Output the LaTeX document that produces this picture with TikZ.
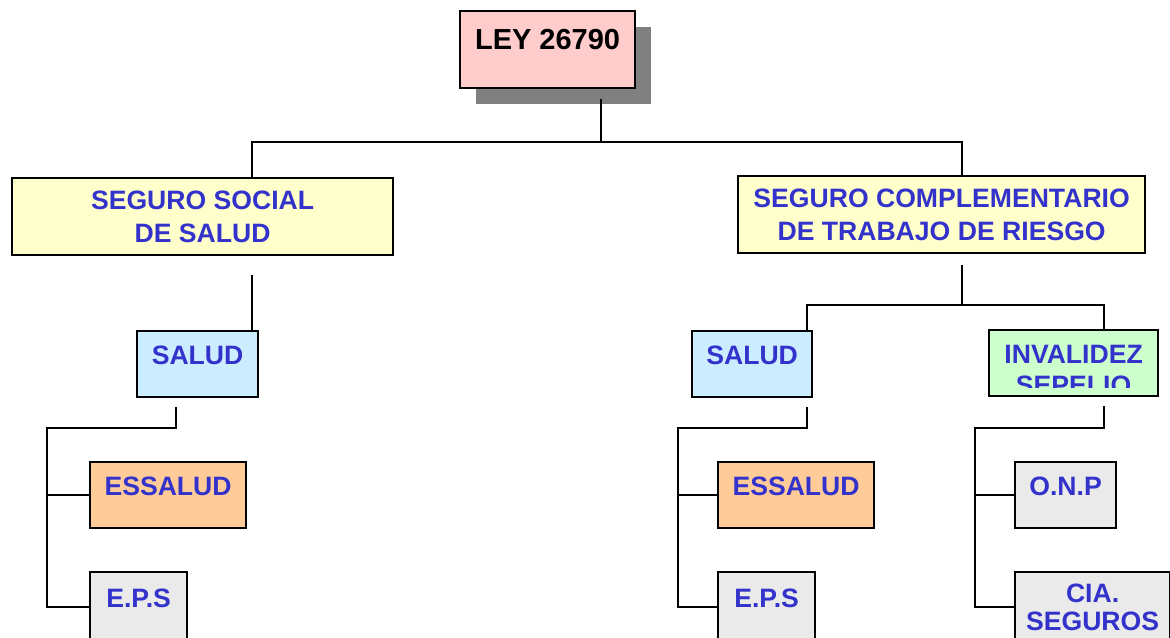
\documentclass[tikz,border=0pt]{standalone}
\usepackage{fontspec}
\setmainfont{Liberation Sans}
\usepackage{xcolor}
\usetikzlibrary{shadows}
\definecolor{lyBlue}{HTML}{3333CC}
\definecolor{lyPink}{HTML}{FFCCCC}
\definecolor{lyYellow}{HTML}{FFFFCC}
\definecolor{lySky}{HTML}{CCECFF}
\definecolor{lyMint}{HTML}{CCFFCC}
\definecolor{lyPeach}{HTML}{FFCC99}
\definecolor{lyGray}{HTML}{EAEAEA}
\definecolor{lyShadow}{HTML}{808080}

\begin{document}
\begin{tikzpicture}[
  x=0.5pt, y=-0.5pt,
  orgbox/.style={
    draw=black,
    line width=1.1pt,
    anchor=north west,
    inner sep=0pt,
    align=center,
    text=lyBlue,
    font=\bfseries\fontsize{13.3}{16.5}\selectfont
  },
  oneline/.style={text height=6pt, text depth=6pt},
  link/.style={line width=1pt, draw=black}
]
\useasboundingbox (0,0) rectangle (1170,637);

% boxes
\node[orgbox, oneline, fill=lyPink, text=black, font=\bfseries\fontsize{14.5}{17}\selectfont,
  minimum width=87.5pt, minimum height=38.5pt,
  drop shadow={shadow xshift=8pt, shadow yshift=-8pt, fill=lyShadow, opacity=1}]
  (ley) at (459,10) {LEY 26790};
\node[orgbox, fill=lyYellow, minimum width=190.5pt, minimum height=38.5pt] (ssalud) at (11,177) {SEGURO SOCIAL\\DE SALUD};
\node[orgbox, fill=lyYellow, minimum width=203.5pt, minimum height=38.5pt] (scomp) at (737,175) {SEGURO COMPLEMENTARIO\\DE TRABAJO DE RIESGO};
\node[orgbox, oneline, fill=lySky, minimum width=60.5pt, minimum height=33pt] (saludL) at (136,330) {SALUD};
\node[orgbox, oneline, fill=lySky, minimum width=60pt, minimum height=33pt] (saludR) at (691,330) {SALUD};
\node[orgbox, fill=lyMint, minimum width=84.5pt, minimum height=33pt,
  path picture={
    \clip ([yshift=4.5pt]path picture bounding box.south west) rectangle (path picture bounding box.north east);
    \node[anchor=base, text=lyBlue] (invL1) at (path picture bounding box.center) {INVALIDEZ};
    \node[anchor=base, text=lyBlue] (invL2) at ([yshift=-15.5pt]path picture bounding box.center) {SEPELIO};
  }] (inval) at (988,329) {};
\node[orgbox, oneline, fill=lyPeach, minimum width=78pt, minimum height=33pt] (essaludL) at (89,461) {ESSALUD};
\node[orgbox, oneline, fill=lyGray, minimum width=48.5pt, minimum height=35pt] (epsL) at (89,571) {E.P.S};
\node[orgbox, oneline, fill=lyPeach, minimum width=78pt, minimum height=33pt] (essaludR) at (717,461) {ESSALUD};
\node[orgbox, oneline, fill=lyGray, minimum width=48.5pt, minimum height=35pt] (epsR) at (717,571) {E.P.S};
\node[orgbox, oneline, fill=lyGray, minimum width=50.5pt, minimum height=33pt] (onp) at (1014,461) {O.N.P};
\node[orgbox, fill=lyGray, font=\bfseries\fontsize{13.3}{14}\selectfont,
  minimum width=77.5pt, minimum height=35pt] (cia) at (1014,571) {CIA.\\SEGUROS};

% junctions
\coordinate (kT) at (601,142);
\coordinate (kL) at (252,142);
\coordinate (kR) at (962,142);
\coordinate (kR2) at (962,305);
\coordinate (kS) at (807,305);
\coordinate (kI) at (1104,305);
\coordinate (hL) at (176,428);
\coordinate (vL) at (47,428);
\coordinate (hR) at (807,428);
\coordinate (vR) at (678,428);
\coordinate (hI) at (1104,428);
\coordinate (vI) at (975,428);

% connectors
\draw[link] ([yshift=-5pt]ley.south -| kT) -- (kT);
\draw[link] (ssalud.north -| kL) -- (kL) -- (kR) -- (scomp.north -| kR);
\draw[link] ([yshift=-9.5pt]ssalud.south -| kL) -- (saludL.north -| kL);
\draw[link] ([yshift=-5.5pt]scomp.south -| kR2) -- (kR2);
\draw[link] (saludR.north -| kS) -- (kS) -- (kI) -- (inval.north -| kI);

\draw[link] ([yshift=-4.5pt]saludL.south -| hL) -- (hL) -- (vL) -- (vL |- epsL.west) -- (epsL.west);
\draw[link] (vL |- essaludL.west) -- (essaludL.west);
\draw[link] ([yshift=-4.5pt]saludR.south -| hR) -- (hR) -- (vR) -- (vR |- epsR.west) -- (epsR.west);
\draw[link] (vR |- essaludR.west) -- (essaludR.west);
\draw[link] ([yshift=-4.5pt]inval.south -| hI) -- (hI) -- (vI) -- (vI |- cia.west) -- (cia.west);
\draw[link] (vI |- onp.west) -- (onp.west);
\end{tikzpicture}
\end{document}
